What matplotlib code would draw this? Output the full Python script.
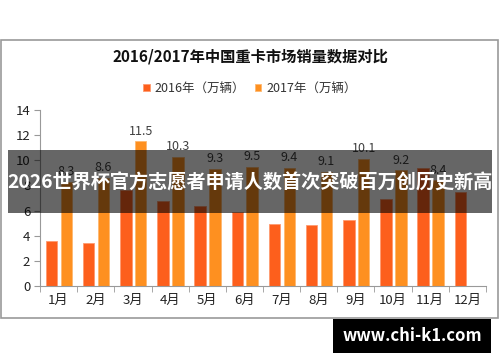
import numpy as np
import matplotlib
matplotlib.use("Agg")
import matplotlib.pyplot as plt
from matplotlib.patches import Rectangle

plt.rcParams['font.family'] = ['Noto Sans CJK SC', 'DejaVu Sans']

months = ["1月", "2月", "3月", "4月", "5月", "6月",
          "7月", "8月", "9月", "10月", "11月", "12月"]
sales_2016 = [3.6, 3.4, 7.6, 6.8, 6.4, 5.9, 4.9, 4.85, 5.25, 6.9, 9.4, 7.5]
sales_2017 = [8.3, 8.6, 11.5, 10.3, 9.3, 9.5, 9.4, 9.1, 10.1, 9.2, 8.4]
yticks = [0, 2, 4, 6, 8, 10, 12, 14]

title = "2016/2017年中国重卡市场销量数据对比"
legend_labels = ["2016年（万辆）", "2017年（万辆）"]
banner_text = "2026世界杯官方志愿者申请人数首次突破百万创历史新高"
site_text = "www.chi-k1.com"

c2016 = "#fd5f1c"
c2017 = "#fe9020"

fig = plt.figure(figsize=(5, 3.62), dpi=100)
W, H = 500, 362

def fx(px):
    return px / W

def fy(py):
    return 1 - py / H

# chart frame
fig.patches.append(Rectangle((fx(1), fy(318)), fx(497), 278 / H,
                             transform=fig.transFigure, fill=False,
                             edgecolor="#999999", linewidth=1.2))

ax = fig.add_axes([fx(40), fy(286), fx(446), 176 / H])
x = np.arange(len(months))
bw = 0.31
ax.bar(x - 0.19, sales_2016, width=bw, color=c2016,
       edgecolor="#ff9a70", linewidth=0.6, label=legend_labels[0], zorder=2)
ax.bar(x[:len(sales_2017)] + 0.21, sales_2017, width=bw, color=c2017,
       edgecolor="#ffb870", linewidth=0.6, label=legend_labels[1], zorder=2)
for xi, v in zip(x, sales_2017):
    ax.text(xi + 0.21, v + 0.3, f"{v:g}", ha="center", va="bottom",
            fontsize=9, color="#404040")

ax.set_xlim(-0.5, 11.5)
ax.set_ylim(0, 14)
ax.set_yticks(yticks)
ax.set_yticklabels([str(t) for t in yticks], fontsize=9.5, color="#222222")
ax.set_xticks(x)
ax.set_xticklabels(months, fontsize=9.5, color="#222222")
ax.set_xticks(np.arange(len(months) + 1) - 0.5, minor=True)
ax.tick_params(axis="x", which="major", length=0, pad=6)
ax.tick_params(axis="x", which="minor", length=4, color="#999999", direction="out")
ax.tick_params(axis="y", length=4, color="#999999", direction="out", pad=3)
for s in ["top", "right"]:
    ax.spines[s].set_visible(False)
for s in ["left", "bottom"]:
    ax.spines[s].set_color("#999999")

fig.text(0.5, fy(57), title, ha="center", va="center",
         fontsize=11, fontweight="bold", color="#111111")
fig.legend(loc="center", bbox_to_anchor=(0.5, fy(88)), ncol=2, frameon=False,
           fontsize=9, handlelength=0.5, handleheight=0.5, handletextpad=0.4,
           columnspacing=0.8, labelcolor="#333333")

# overlay banner
fig.patches.append(Rectangle((fx(8), fy(213)), fx(484), 63 / H,
                             transform=fig.transFigure, facecolor="black",
                             alpha=0.6, edgecolor="none", zorder=5))
fig.text(0.5, fy(183), banner_text, ha="center", va="center",
         fontsize=13.8, fontweight="bold", color="white", zorder=6)

# site box
fig.patches.append(Rectangle((fx(333), fy(353)), fx(158), 34 / H,
                             transform=fig.transFigure, facecolor="black",
                             edgecolor="none", zorder=5))
fig.text(fx(412), fy(336), site_text, ha="center", va="center",
         fontsize=12, fontweight="bold", color="white", zorder=6)

fig.savefig("out.png", dpi=100)
